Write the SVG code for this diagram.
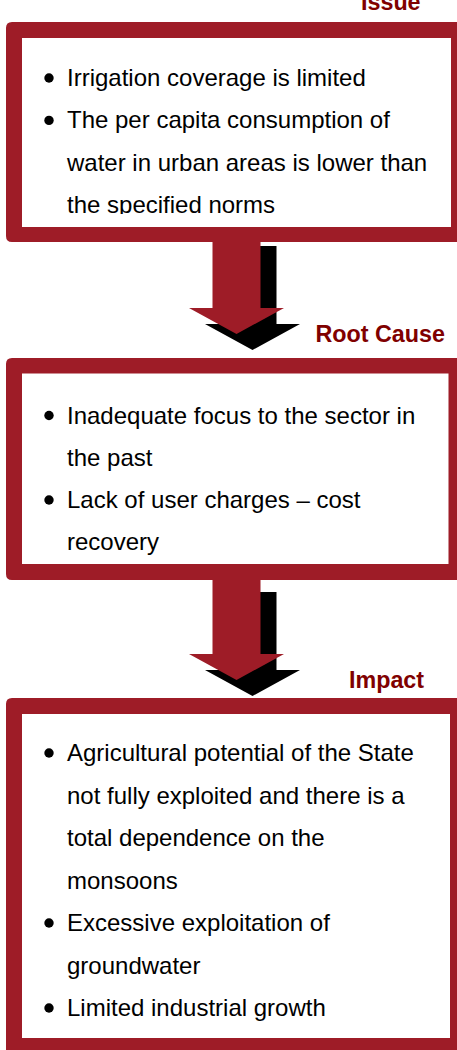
<svg xmlns="http://www.w3.org/2000/svg" width="457" height="1050" viewBox="0 0 457 1050">
  <style>
    .frame { fill: #9E1C27; fill-rule: evenodd; }
    .inner { fill: #FFFFFF; }
    .body { font-family: "Liberation Sans", Arial, sans-serif; font-size: 24px; fill: #000000; }
    .label { font-family: "Liberation Sans", Arial, sans-serif; font-size: 23.3px; font-weight: bold; fill: #800000; }
    .bullet { fill: #000000; }
    .arrow { fill: #9E1C27; }
    .shadow { fill: #000000; }
  </style>
  <defs>
    <clipPath id="clip1">
      <rect x="22" y="38" width="429" height="176"/>
    </clipPath>
    <polygon id="arrowShape" points="212.5,0 260.5,0 260.5,78 284,78 236.5,104 189,78 212.5,78"/>
  </defs>
  <rect x="0" y="0" width="457" height="1050" fill="#FFFFFF"/>

  <g id="connectors">
    <use href="#arrowShape" class="shadow" transform="translate(16,246)"/>
    <use href="#arrowShape" class="arrow" transform="translate(0,230)"/>
    <use href="#arrowShape" class="shadow" transform="translate(16,592)"/>
    <use href="#arrowShape" class="arrow" transform="translate(0,576)"/>
  </g>

  <g id="issue-label">
    <text class="label" x="361" y="9.5">Issue</text>
  </g>

  <g id="issue">
    <rect class="inner" x="22" y="38" width="429" height="189"/>
    <g clip-path="url(#clip1)">
      <circle class="bullet" cx="49" cy="78" r="4.7"/>
      <text class="body" x="67" y="86">Irrigation coverage is limited</text>
      <circle class="bullet" cx="49" cy="120.4" r="4.7"/>
      <text class="body" x="67" y="128.4">The per capita consumption of</text>
      <text class="body" x="67" y="170.8">water in urban areas is lower than</text>
      <text class="body" x="67" y="213.2">the specified norms</text>
    </g>
    <path class="frame" d="M12,22 H461 Q467,22 467,28 V236 Q467,242 461,242 H12 Q6,242 6,236 V28 Q6,22 12,22 Z M22,38 V227 H451 V38 Z"/>
  </g>

  <g id="root-cause-label">
    <text class="label" x="315.5" y="341.7">Root Cause</text>
  </g>

  <g id="root-cause">
    <rect class="inner" x="22" y="373.5" width="426.5" height="190.5"/>
    <circle class="bullet" cx="49" cy="415.5" r="4.7"/>
    <text class="body" x="67" y="423.5">Inadequate focus to the sector in</text>
    <text class="body" x="67" y="465.8">the past</text>
    <circle class="bullet" cx="49" cy="500" r="4.7"/>
    <text class="body" x="67" y="508">Lack of user charges – cost</text>
    <text class="body" x="67" y="550.3">recovery</text>
    <path class="frame" d="M12,358 H461 Q467,358 467,364 V574 Q467,580 461,580 H12 Q6,580 6,574 V364 Q6,358 12,358 Z M22,373.5 V564 H448.5 V373.5 Z"/>
  </g>

  <g id="impact-label">
    <text class="label" x="349" y="688">Impact</text>
  </g>

  <g id="impact">
    <rect class="inner" x="22" y="714" width="428" height="324"/>
    <circle class="bullet" cx="49" cy="753" r="4.7"/>
    <text class="body" x="67" y="761">Agricultural potential of the State</text>
    <text class="body" x="67" y="803.5">not fully exploited and there is a</text>
    <text class="body" x="67" y="846">total dependence on the</text>
    <text class="body" x="67" y="888.5">monsoons</text>
    <circle class="bullet" cx="49" cy="923" r="4.7"/>
    <text class="body" x="67" y="931">Excessive exploitation of</text>
    <text class="body" x="67" y="973.5">groundwater</text>
    <circle class="bullet" cx="49" cy="1008" r="4.7"/>
    <text class="body" x="67" y="1016">Limited industrial growth</text>
    <path class="frame" d="M12,698 H461 Q467,698 467,704 V1054 Q467,1060 461,1060 H12 Q6,1060 6,1054 V704 Q6,698 12,698 Z M22,714 V1038 H450 V714 Z"/>
  </g>
</svg>
